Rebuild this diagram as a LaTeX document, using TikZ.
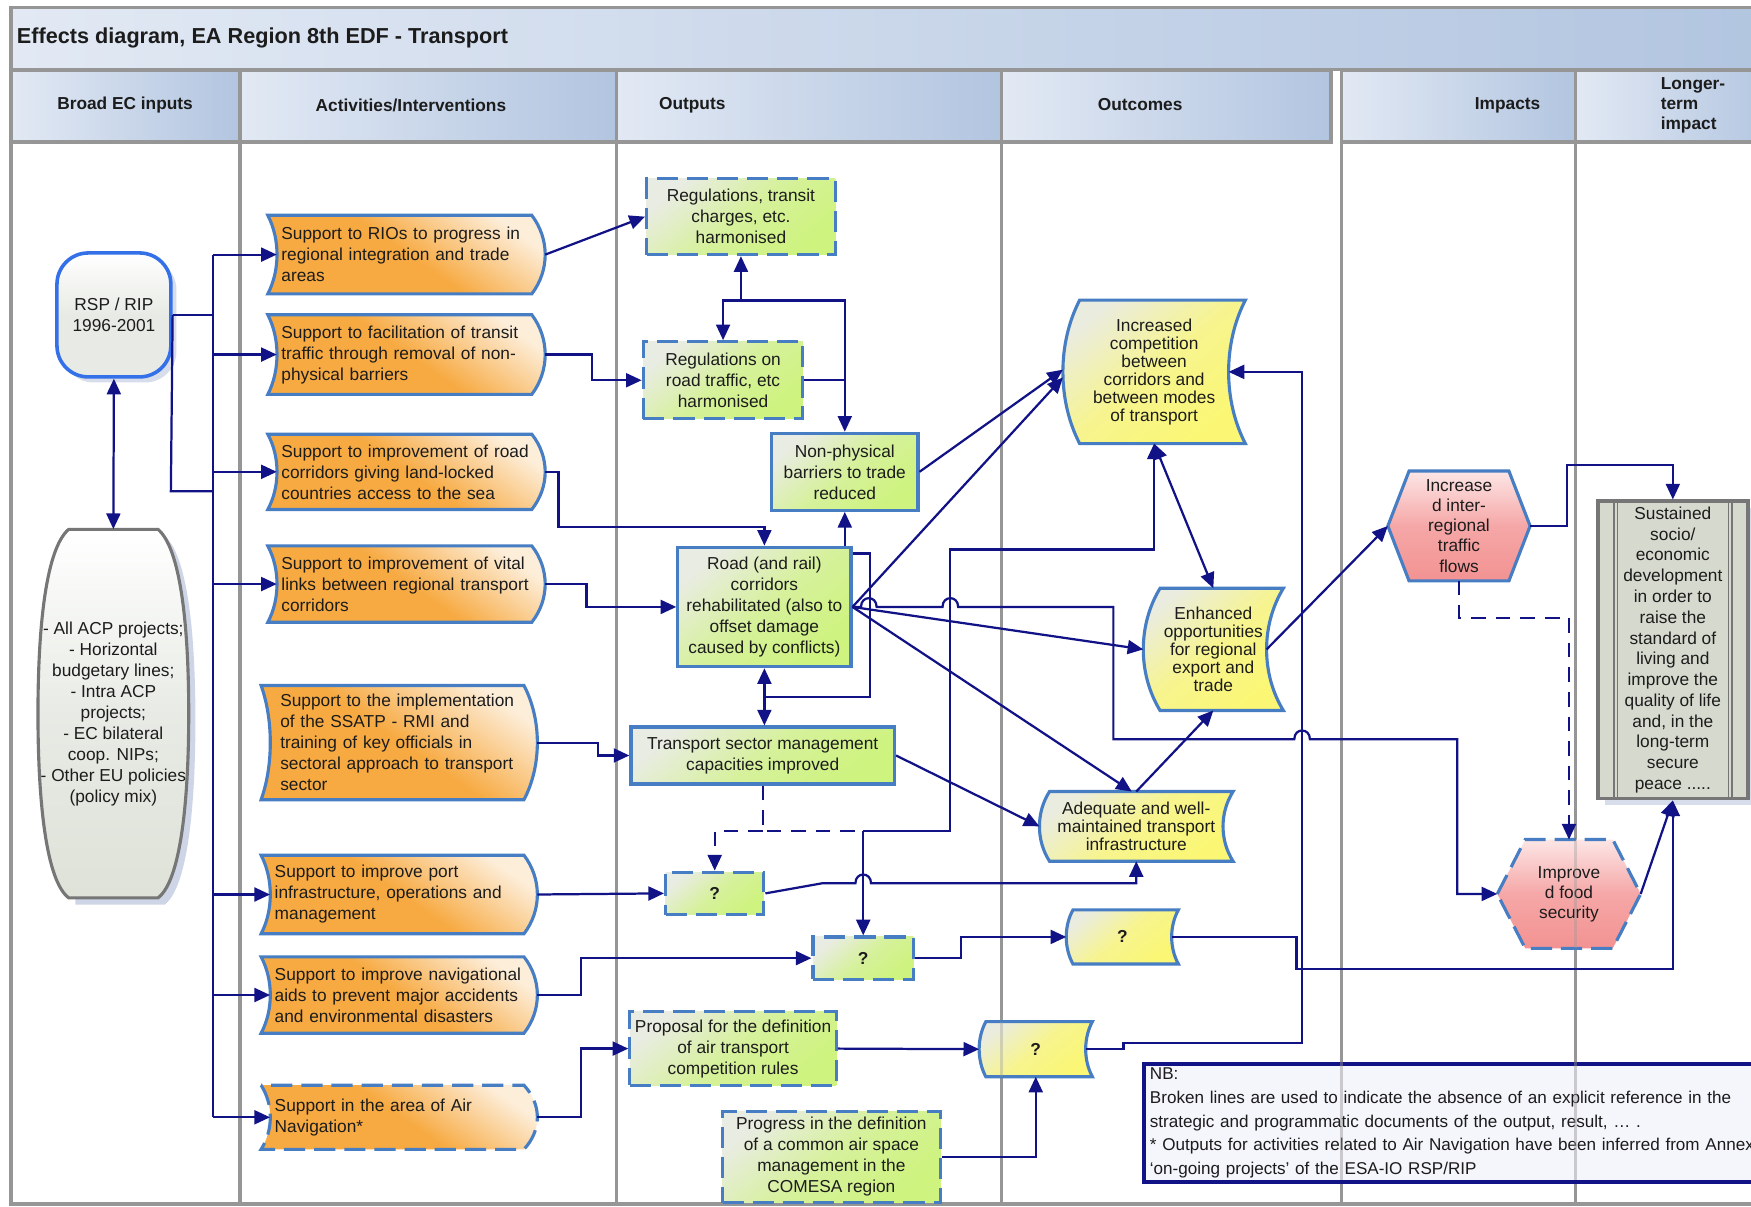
\documentclass[tikz,border=0pt]{standalone}
\usepackage{fontspec}
\setmainfont{Liberation Sans}
\usetikzlibrary{calc,arrows.meta,shadows}

\definecolor{navy}{RGB}{18,18,135}
\definecolor{bord}{RGB}{70,125,195}
\definecolor{colgray}{RGB}{150,150,150}
\definecolor{hdrL}{RGB}{226,233,244}
\definecolor{hdrD}{RGB}{178,197,224}
\definecolor{ink}{RGB}{28,28,28}
\definecolor{orD}{RGB}{247,170,66}
\definecolor{orL}{RGB}{253,238,218}
\definecolor{grnD}{RGB}{206,243,126}
\definecolor{grnL}{RGB}{233,236,226}
\definecolor{yelD}{RGB}{251,247,116}
\definecolor{yelL}{RGB}{234,236,224}
\definecolor{pnkD}{RGB}{243,146,146}
\definecolor{pnkL}{RGB}{253,230,230}
\definecolor{rspB}{RGB}{52,112,232}
\definecolor{lgray}{RGB}{232,235,229}
\definecolor{lgrayD}{RGB}{222,226,216}
\definecolor{ltfill}{RGB}{214,218,206}
\definecolor{ltbord}{RGB}{118,118,118}
\definecolor{shd}{RGB}{205,213,230}
\definecolor{nbfill}{RGB}{245,246,252}

\newcommand\fsBody{\fontsize{15.5pt}{18.8pt}\selectfont}
\newcommand\fsOut{\fontsize{15.5pt}{16pt}\selectfont}
\newcommand\fsImp{\fontsize{15.5pt}{18pt}\selectfont}
\newcommand\fsHead{\fontsize{15.5pt}{18pt}\selectfont\bfseries}
\newcommand\fsTitle{\fontsize{19.4pt}{22pt}\selectfont\bfseries}
\newcommand\fsNB{\fontsize{15.3pt}{21.2pt}\selectfont}

% activity outline: concave left edge, convex right edge
\newcommand\actoutline[2]{%
  \path[#2] (#1.north west)
    .. controls ($(#1.north west)!0.3!(#1.south west)+(11,0)$) and ($(#1.north west)!0.7!(#1.south west)+(11,0)$) .. (#1.south west)
    -- ($(#1.south east)+(-12,0)$)
    .. controls ($(#1.south east)!0.3!(#1.north east)+(4,0)$) and ($(#1.south east)!0.7!(#1.north east)+(4,0)$) .. ($(#1.north east)+(-12,0)$)
    -- cycle;
  \coordinate (#1-in) at ($(#1.west)+(8,0)$);}
% outcome outline: both side edges bow to the left by #2
\newcommand\outoutline[3]{%
  \path[#3] ($(#1.north west)+(#2,0)$) -- (#1.north east)
    .. controls ($(#1.north east)!0.3!(#1.south east)+(-1.333*#2,0)$) and ($(#1.north east)!0.7!(#1.south east)+(-1.333*#2,0)$) .. (#1.south east)
    -- ($(#1.south west)+(#2,0)$)
    .. controls ($(#1.south west)!0.3!(#1.north west)+(#2-1.333*#2,0)$) and ($(#1.south west)!0.7!(#1.north west)+(#2-1.333*#2,0)$) .. ($(#1.north west)+(#2,0)$)
    -- cycle;
  \coordinate (#1-out) at ($(#1.east)+(-#2,0)$);}
% flattened hexagon
\newcommand\hexoutline[3]{%
  \path[#3] (#1.west) -- ($(#1.north west)+(#2,0)$) -- ($(#1.north east)+(-#2,0)$)
    -- (#1.east) -- ($(#1.south east)+(-#2,0)$) -- ($(#1.south west)+(#2,0)$) -- cycle;}

\pgfdeclarelayer{bg}
\pgfdeclarelayer{shp}
\pgfdeclarelayer{fg}
\pgfsetlayers{bg,shp,main,fg}

\begin{document}
\begin{tikzpicture}[x=1pt,y=-1pt,
  conn/.style={draw=navy, line width=2pt},
  arr/.style={conn, -{Triangle[length=14pt,width=12.5pt]}},
  arrtwo/.style={conn, {Triangle[length=14pt,width=12.5pt]}-{Triangle[length=14pt,width=12.5pt]}},
  dsh/.style={dash pattern=on 13pt off 9pt},
  boxdash/.style={dash pattern=on 19pt off 8pt},
  hdr/.style={draw=colgray, line width=3pt, left color=hdrL, right color=hdrD},
  txtnode/.style={rectangle, inner sep=0pt, text=ink},
  headlbl/.style={txtnode, font=\fsHead},
  actnode/.style={txtnode, align=left, inner xsep=12pt, font=\fsBody},
  outbox/.style={rectangle, draw=bord, line width=2.8pt, top color=grnL, bottom color=grnD, middle color=grnD!70!grnL, shading angle=40, align=center, inner sep=0pt, font=\fsBody, text=ink},
  outcnode/.style={txtnode, align=center, font=\fsOut},
  impnode/.style={txtnode, align=center, font=\fsImp},
  actfill/.style={draw=bord, line width=2.8pt, top color=orL, bottom color=orD, middle color=orD, shading angle=-35},
  yelfill/.style={draw=bord, line width=2.8pt, top color=yelL, bottom color=yelD, middle color=yelD!75!yelL, shading angle=40},
  pnkfill/.style={draw=bord, line width=2.8pt, top color=pnkL, bottom color=pnkD, middle color=pnkD!75!pnkL},
]
\useasboundingbox (0,0) rectangle (1568,1080);
\clip (0,0) rectangle (1568,1080);

% ---------- frame, title band and column headers ----------
\begin{pgfonlayer}{bg}
  \fill[white] (0,0) rectangle (1568,1080);
  \path[hdr] (10,7) rectangle (1590,62);
  \foreach \xa/\xb in {10/215, 215/552, 552/897, 897/1192, 1201/1411, 1411/1590}
    \path[hdr] (\xa,63) rectangle (\xb,127);
  \draw[colgray, line width=3pt] (10,127) -- (10,1078) -- (1590,1078);
  \foreach \x in {215,552,897,1201,1411}
    \draw[colgray, line width=3pt] (\x,127) -- (\x,1078);
\end{pgfonlayer}

\node[txtnode, anchor=west, font=\fsTitle] (title) at (15,34) {Effects diagram, EA Region 8th EDF - Transport};
\node[headlbl] (h1) at (112,94) {Broad EC inputs};
\node[headlbl] (h2) at (368,94) {Activities/Interventions};
\node[headlbl, anchor=west] (h3) at (590,94) {Outputs};
\node[headlbl] (h4) at (1021,94) {Outcomes};
\node[headlbl] (h5) at (1350,94) {Impacts};
\node[headlbl, anchor=west, align=left] (h6) at (1487,94) {Longer-\\term\\impact};

% ---------- inputs ----------
\node[rectangle, rounded corners=28pt, draw=rspB, line width=3.2pt, top color=white, bottom color=lgray, middle color=lgray,
      drop shadow={shadow xshift=5pt, shadow yshift=-5pt, fill=shd, opacity=0.8},
      minimum width=102pt, minimum height=111pt, align=center, inner sep=0pt, font=\fsBody, text=ink] (rsp) at (102,282) {RSP / RIP\\1996-2001};
\node[txtnode, minimum width=135pt, minimum height=330pt, align=center, font=\fsBody] (lft) at (101.5,639)
  {- All ACP projects;\\- Horizontal\\budgetary lines;\\- Intra ACP\\projects;\\- EC bilateral\\coop. NIPs;\\- Other EU policies\\(policy mix)};

% ---------- activities ----------
\node[actnode, text width=224pt, minimum height=70pt] (a1) at (364,228) {Support to RIOs to progress in\\regional integration and trade\\areas};
\node[actnode, text width=224pt, minimum height=71pt] (a2) at (364,317.5) {Support to facilitation of transit\\traffic through removal of non-\\physical barriers};
\node[actnode, text width=224pt, minimum height=67pt] (a3) at (364,422.5) {Support to improvement of road\\corridors giving land-locked\\countries access to the sea};
\node[actnode, text width=224pt, minimum height=68pt] (a4) at (364,523) {Support to improvement of vital\\links between regional transport\\corridors};
\node[actnode, inner xsep=17pt, text width=213pt, minimum height=102pt] (a5) at (357.5,665) {Support to the implementation\\of the SSATP - RMI and\\training of key officials in\\sectoral approach to transport\\sector};
\node[actnode, text width=223pt, minimum height=70pt] (a6) at (357.5,801) {Support to improve port\\infrastructure, operations and\\management};
\node[actnode, text width=223pt, minimum height=68pt] (a7) at (357.5,891) {Support to improve navigational\\aids to prevent major accidents\\and environmental disasters};
\node[actnode, text width=223pt, minimum height=57pt] (a8) at (357.5,1000.5) {Support in the area of Air\\Navigation*};

% ---------- outputs ----------
\node[outbox, boxdash, minimum width=169pt, minimum height=68pt] (o1) at (663.5,194) {Regulations, transit\\charges, etc.\\harmonised};
\node[outbox, boxdash, minimum width=143pt, minimum height=69pt] (o2) at (647.5,340.5) {Regulations on\\road traffic, etc\\harmonised};
\node[outbox, minimum width=131pt, minimum height=69pt] (o3) at (756.5,422.5) {Non-physical\\barriers to trade\\reduced};
\node[outbox, minimum width=155pt, minimum height=107pt] (o4) at (684.5,543.5) {Road (and rail)\\corridors\\rehabilitated (also to\\offset damage\\caused by conflicts)};
\node[outbox, minimum width=236pt, minimum height=51pt] (o5) at (683,676.5) {Transport sector management\\capacities improved};
\node[outbox, boxdash, minimum width=88pt, minimum height=38pt, font=\fsBody\bfseries] (o6) at (640,800) {?};
\node[outbox, boxdash, minimum width=90pt, minimum height=38pt, font=\fsBody\bfseries] (o7) at (773,858) {?};
\node[outbox, boxdash, minimum width=185pt, minimum height=66pt] (o8) at (656.5,939) {Proposal for the definition\\of air transport\\competition rules};
\node[outbox, boxdash, minimum width=195pt, minimum height=82pt] (o9) at (744.5,1036) {Progress in the definition\\of a common air space\\management in the\\COMESA region};

% ---------- outcomes ----------
\node[outcnode, minimum width=163pt, minimum height=128pt] (c1) at (1033.5,333) {Increased\\competition\\between\\corridors and\\between modes\\of transport};
\node[outcnode, minimum width=125pt, minimum height=109pt] (c2) at (1086.5,581.5) {Enhanced\\opportunities\\for regional\\export and\\trade};
\node[outcnode, minimum width=173pt, minimum height=62pt] (c3) at (1017.5,740) {Adequate and well-\\maintained transport\\infrastructure};
\node[outcnode, minimum width=100pt, minimum height=48pt, font=\fsOut\bfseries] (c4) at (1005,839) {?};
\node[outcnode, minimum width=101pt, minimum height=49pt, font=\fsOut\bfseries] (c5) at (927.5,939.5) {?};

% ---------- impacts ----------
\node[impnode, minimum width=127pt, minimum height=98pt] (i1) at (1306.5,471) {Increase\\d inter-\\regional\\traffic\\flows};
\node[impnode, minimum width=128pt, minimum height=97pt] (i2) at (1405,800.5) {Improve\\d food\\security};

% ---------- longer-term impact ----------
\node[rectangle, draw=ltbord, line width=3.5pt, fill=ltfill,
      drop shadow={shadow xshift=6pt, shadow yshift=-6pt, fill=shd, opacity=0.8},
      minimum width=134pt, minimum height=266pt, align=center, inner sep=0pt, font=\fontsize{15.5pt}{18.6pt}\selectfont, text=ink] (l1) at (1498,582)
  {Sustained\\socio/\\economic\\development\\in order to\\raise the\\standard of\\living and\\improve the\\quality of life\\and, in the\\long-term\\secure\\peace .....};
\foreach \s in {16,19}{
  \draw[ltbord, line width=1.4pt] ([xshift=\s pt]l1.north west) -- ([xshift=\s pt]l1.south west);
  \draw[ltbord, line width=1.4pt] ([xshift=-\s pt]l1.north east) -- ([xshift=-\s pt]l1.south east);}

% ---------- note ----------
\node[rectangle, draw=navy, line width=3.5pt, fill=nbfill, anchor=north west, text width=592pt, inner xsep=5pt, inner ysep=0pt,
      minimum height=106pt, align=left, font=\fsNB, text=ink] (nb) at (1023,951)
  {NB:\\Broken lines are used to indicate the absence of an explicit reference in the\\strategic and programmatic documents of the output, result, … .\\\mbox{*} Outputs for activities related to Air Navigation have been inferred from Annex\\‘on-going projects’ of the ESA-IO RSP/RIP};

% ---------- shaped outlines ----------
\begin{pgfonlayer}{shp}
  \begin{scope}[shift={(lft.center)}]
    \fill[shd] (-34,-159) -- (46,-159) .. controls (66,-142) and (73.5,-74) .. (73.5,6) .. controls (73.5,86) and (66,156) .. (46,171) -- (-34,171) -- cycle;
    \path[draw=ltbord, line width=2.8pt, top color=white, bottom color=lgrayD, middle color=lgray]
      (-40,-165) -- (40,-165) .. controls (60,-148) and (67.5,-80) .. (67.5,0) .. controls (67.5,80) and (60,150) .. (40,165)
      -- (-40,165) .. controls (-60,150) and (-67.5,80) .. (-67.5,0) .. controls (-67.5,-80) and (-60,-148) .. (-40,-165) -- cycle;
  \end{scope}
  \foreach \n in {a1,a2,a3,a4,a5,a6,a7}{\actoutline{\n}{actfill}}
  \actoutline{a8}{actfill,boxdash}
  \outoutline{c1}{15}{yelfill}
  \outoutline{c2}{15}{yelfill}
  \outoutline{c3}{9}{yelfill}
  \outoutline{c4}{6}{yelfill}
  \outoutline{c5}{6}{yelfill}
  \hexoutline{i1}{19}{pnkfill}
  \hexoutline{i2}{25}{pnkfill,boxdash}
\end{pgfonlayer}

% ---------- connectors ----------
\coordinate (bus-top) at (191,228);
\coordinate (bus-bot) at (191,1000.5);
\coordinate (rsp-drop) at (153,440);
\draw[conn] (bus-top) -- (bus-bot);
\draw[conn] (rsp.east) -- (rsp.east -| bus-top);
\draw[conn] (rsp.east) -- (rsp-drop) -- (rsp-drop -| bus-top);
\foreach \n in {a1,a2,a3,a4,a6,a7,a8}
  \draw[arr] (\n-in -| bus-top) -- (\n-in);
\draw[arrtwo] (rsp.south) -- (lft.north);

\draw[arr] (a1.east) -- (o1.west);
\draw[arr] (a2.east) -- ++(42,0) |- (o2.west);
\draw[arr] (a3.east) -- ++(12,0) |- ([yshift=17pt]o4.north) -- (o4.north);
\draw[arr] (a4.east) -- ++(37,0) |- (o4.west);
\draw[arr] (a5.east) -- ++(54,0) |- (o5.west);
\draw[arr] (a6.east) -- (o6.west);
\draw[arr] (a7.east) -- ++(39,0) |- (o7.west);
\draw[arr] (a8.east) -- ++(39,0) |- (o8.west);

\coordinate (j1) at (663.5,269);
\draw[arr] (j1) -- (o1.south);
\draw[arr] (j1) -| (o2.north);
\draw[arr] (j1) -| (o3.north);
\draw[conn] (o2.east) -- (o2.east -| o3.north);
\draw[arr] (o4.north -| o3.south) -- (o3.south);
\draw[arrtwo] (o4.south) -- (o4.south |- o5.north);
\draw[conn] ([yshift=-7pt]o4.north east) -- ++(16,0) |- ($(o4.south)!0.5!(o5.north)$);

\draw[arr] (o3.east) -- ([yshift=2pt]c1.west);
\draw[arr] (o4.east) -- ([yshift=-5pt]c1.west);
\draw[arr] (o4.east) -- (c2.west);
\draw[arr] (o4.east) -- ([xshift=-4pt]c3.north);
\draw[arr] (o4.east) -- (771,543.5) .. controls (771,533) and (785,533) .. (785,543.5)
  -- (844,543.5) .. controls (844,533) and (858,533) .. (858,543.5)
  -- (997,543.5) -- (997,662) -- (1159,662) .. controls (1159,651.5) and (1173,651.5) .. (1173,662)
  -- (1305,662) |- (i2.west);

\coordinate (jd2) at (773,744);
\draw[conn, dsh] (o5.south) |- (jd2);
\draw[arr, dsh] (o5.south |- jd2) -| (o6.north);
\draw[arr] (jd2) -- (o7.north);
\draw[arr] (jd2) -- (851,744) -- (851,492) -| (c1.south);

\draw[arr] (o5.east) -- (c3.west);
\draw[arr] (o6.east) -- (736,791) -- (766,791) .. controls (766,780.5) and (780,780.5) .. (780,791) -| (c3.south);
\draw[arr] (o7.east) -- ++(41,0) |- (c4.west);
\draw[arr] (o8.east) -- (c5.west);
\draw[arr] (o9.east) -| (c5.south);

\draw[arrtwo] (c1.south) -- (c2.north);
\draw[arr] (c3.north) -- (c2.south);
\draw[arr] (c2-out) -- (i1.west);
\draw[arr] (c4-out) -- (1161,839) -- (1161,868) -| (l1.south);
\draw[arr] (c5-out) -- (1006,939.5) -- (1006,934) -- (1166,934) |- (c1-out);
\draw[arr] (i2.east) -- (l1.south);
\draw[arr] (i1.east) -- ++(33,0) |- ([yshift=31pt]l1.north) -- (l1.north);
\draw[arr, dsh] (i1.south) -- ++(0,33) -| (i2.north);

% column rules showing through the boxes that overlap them
\begin{pgfonlayer}{fg}
  \draw[colgray, line width=3pt, opacity=0.35] (897,915) -- (897,964);
  \draw[colgray, line width=3pt, opacity=0.35] (1411,752) -- (1411,849);
  \draw[colgray, line width=3pt, opacity=0.45] (1411,951) -- (1411,1057);
  \draw[colgray, line width=3pt, opacity=0.45] (1201,951) -- (1201,1057);
\end{pgfonlayer}
\end{tikzpicture}
\end{document}
